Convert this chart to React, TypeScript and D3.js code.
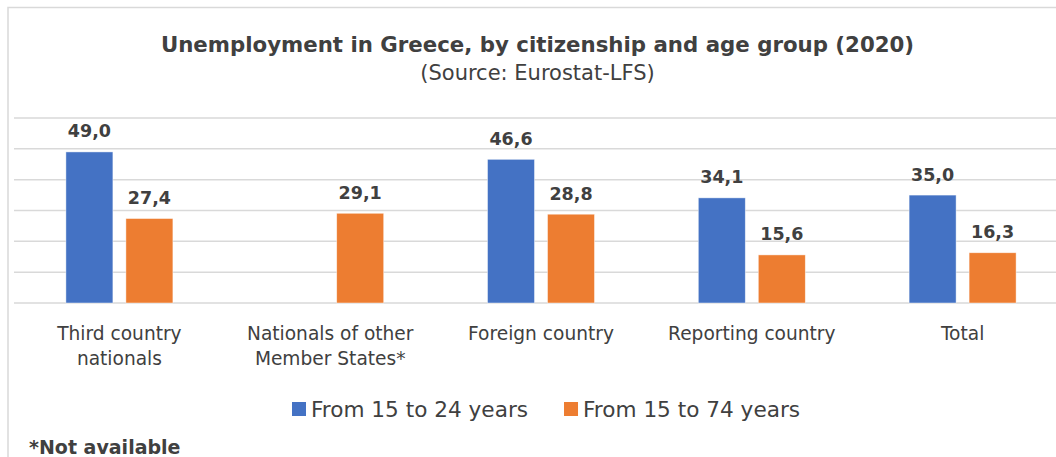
import React, { useEffect, useRef } from "react";
import * as d3 from "d3";

const categories: string[][] = [
  ["Third country", "nationals"],
  ["Nationals of other", "Member States*"],
  ["Foreign country"],
  ["Reporting country"],
  ["Total"],
];
const seriesNames = ["From 15 to 24 years", "From 15 to 74 years"];
const youth: (number | null)[] = [49.0, null, 46.6, 34.1, 35.0];
const all: (number | null)[] = [27.4, 29.1, 28.8, 15.6, 16.3];
const colors = ["#4472C4", "#ED7D31"];
const yTicks = [0, 10, 20, 30, 40, 50, 60];
const titleText = "Unemployment in Greece, by citizenship and age group (2020)";
const subtitleText = "(Source: Eurostat-LFS)";
const footnoteText = "*Not available";

const W = 1056;
const H = 457;
const FONT = "'DejaVu Sans', Verdana, sans-serif";
const TXT = "#404040";

export default function App() {
  const ref = useRef<SVGSVGElement>(null);

  useEffect(() => {
    const svg = d3.select(ref.current);
    svg.selectAll("*").remove();

    const plotLeft = 14;
    const plotRight = 1068;
    const frameLeft = 8;
    const frameTop = 7.5;
    const frameRight = 1067;
    const cx = (frameLeft + frameRight) / 2;

    // frame
    svg
      .append("rect")
      .attr("x", frameLeft)
      .attr("y", frameTop)
      .attr("width", frameRight - frameLeft + 20)
      .attr("height", H)
      .attr("fill", "#fff")
      .attr("stroke", "#D9D9D9")
      .attr("stroke-width", 1.5);

    // titles
    svg
      .append("text")
      .attr("x", cx)
      .attr("y", 52)
      .attr("text-anchor", "middle")
      .attr("font-family", FONT)
      .attr("font-weight", "bold")
      .attr("font-size", 21.3)
      .attr("fill", TXT)
      .text(titleText);
    svg
      .append("text")
      .attr("x", cx)
      .attr("y", 80)
      .attr("text-anchor", "middle")
      .attr("font-family", FONT)
      .attr("font-size", 21)
      .attr("fill", TXT)
      .text(subtitleText);

    const x0 = d3
      .scaleBand<number>()
      .domain(d3.range(categories.length))
      .range([plotLeft, plotRight])
      .paddingInner(0)
      .paddingOuter(0);
    const x1 = d3
      .scaleBand<number>()
      .domain([0, 1])
      .range([0, x0.bandwidth()])
      .paddingInner(13 / 60)
      .paddingOuter(0.865);
    const y = d3.scaleLinear().domain([0, 60]).range([303, 118]);

    // gridlines
    svg
      .append("g")
      .selectAll("line")
      .data(yTicks)
      .join("line")
      .attr("x1", plotLeft)
      .attr("x2", plotRight)
      .attr("y1", (d) => y(d))
      .attr("y2", (d) => y(d))
      .attr("stroke", "#D9D9D9")
      .attr("stroke-width", 1.5);

    const seriesData = [youth, all];
    const fmt = (v: number) => v.toFixed(1).replace(".", ",");

    seriesData.forEach((vals, s) => {
      const items = vals
        .map((v, i) => ({ v, i }))
        .filter((d) => d.v !== null) as { v: number; i: number }[];
      const g = svg.append("g");
      g.selectAll("rect")
        .data(items)
        .join("rect")
        .attr("x", (d) => (x0(d.i) as number) + (x1(s) as number))
        .attr("y", (d) => y(d.v))
        .attr("width", x1.bandwidth())
        .attr("height", (d) => y(0) - y(d.v))
        .attr("fill", colors[s])
        .attr("stroke", "#fff")
        .attr("stroke-opacity", 0.6)
        .attr("stroke-width", 0.75);
      g.selectAll("text")
        .data(items)
        .join("text")
        .attr("x", (d) => (x0(d.i) as number) + (x1(s) as number) + x1.bandwidth() / 2)
        .attr("y", (d) => y(d.v) - 14.5)
        .attr("text-anchor", "middle")
        .attr("font-family", FONT)
        .attr("font-weight", "bold")
        .attr("font-size", 17.5)
        .attr("fill", TXT)
        .text((d) => fmt(d.v));
    });

    // category labels
    const cg = svg.append("g");
    categories.forEach((lines, i) => {
      const t = cg
        .append("text")
        .attr("text-anchor", "middle")
        .attr("font-family", FONT)
        .attr("font-size", 18.6)
        .attr("fill", TXT);
      lines.forEach((ln, k) => {
        t.append("tspan")
          .attr("x", (x0(i) as number) + x0.bandwidth() / 2)
          .attr("y", 340 + k * 25)
          .text(ln);
      });
    });

    // legend
    const lg = svg.append("g");
    let lx = 292;
    const sq = 14;
    seriesNames.forEach((name, s) => {
      lg.append("rect")
        .attr("x", lx)
        .attr("y", 402)
        .attr("width", sq)
        .attr("height", sq)
        .attr("fill", colors[s]);
      const t = lg
        .append("text")
        .attr("x", lx + sq + 5)
        .attr("y", 417)
        .attr("font-family", FONT)
        .attr("font-size", 21.6)
        .attr("fill", TXT)
        .text(name);
      const w = (t.node() as SVGTextElement).getComputedTextLength();
      lx = lx + sq + 5 + w + 36;
    });

    // footnote
    svg
      .append("text")
      .attr("x", 29)
      .attr("y", 454)
      .attr("font-family", FONT)
      .attr("font-weight", "bold")
      .attr("font-size", 19)
      .attr("fill", TXT)
      .text(footnoteText);
  }, []);

  return (
    <svg
      ref={ref}
      width={W}
      height={H}
      style={{ position: "fixed", left: 0, top: 0, display: "block", background: "#fff" }}
    />
  );
}
